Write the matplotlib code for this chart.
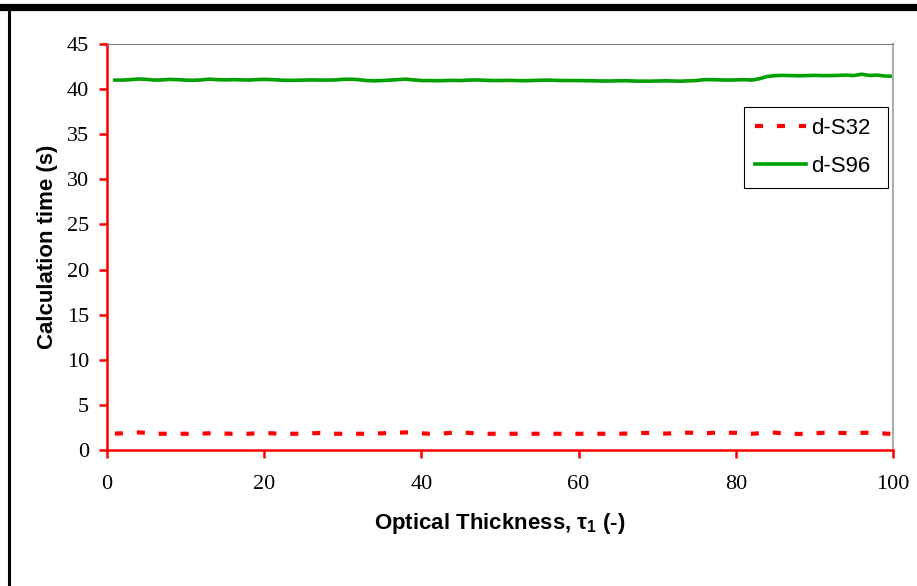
import numpy as np
import matplotlib
matplotlib.use("Agg")
import matplotlib.pyplot as plt
from matplotlib.lines import Line2D

# optical thickness values (1..100)
tau = list(range(1, 101))

# calculation time, d-S32 (s)
t_s32 = [1.82, 1.85, 1.9, 1.95, 1.9, 1.82, 1.8, 1.8, 1.8, 1.8,
         1.8, 1.82, 1.85, 1.85, 1.82, 1.8, 1.8, 1.8, 1.85, 1.88,
         1.85, 1.8, 1.8, 1.8, 1.82, 1.85, 1.88, 1.85, 1.8, 1.8,
         1.8, 1.8, 1.8, 1.82, 1.85, 1.88, 1.92, 1.95, 1.9, 1.85,
         1.8, 1.8, 1.85, 1.92, 1.95, 1.9, 1.82, 1.8, 1.8, 1.8,
         1.8, 1.8, 1.8, 1.8, 1.8, 1.8, 1.8, 1.8, 1.8, 1.8,
         1.8, 1.8, 1.8, 1.8, 1.8, 1.82, 1.85, 1.88, 1.9, 1.85,
         1.82, 1.85, 1.9, 1.92, 1.9, 1.85, 1.9, 1.93, 1.92, 1.9,
         1.85, 1.8, 1.85, 1.92, 1.92, 1.85, 1.8, 1.78, 1.8, 1.85,
         1.9, 1.92, 1.9, 1.88, 1.85, 1.9, 1.92, 1.88, 1.82, 1.78]

# calculation time, d-S96 (s)
t_s96 = [41.0, 41.0, 41.05, 41.12, 41.08, 41.0, 41.02, 41.08, 41.05, 41.0,
         40.98, 41.02, 41.1, 41.05, 41.02, 41.05, 41.03, 41.0, 41.05, 41.08,
         41.05, 41.0, 40.97, 40.98, 41.0, 41.02, 41.0, 41.0, 41.02, 41.08,
         41.1, 41.05, 40.95, 40.92, 40.95, 41.0, 41.05, 41.1, 41.02, 40.95,
         40.95, 40.93, 40.95, 40.97, 40.95, 41.0, 41.02, 40.98, 40.95, 40.95,
         40.97, 40.95, 40.93, 40.95, 40.98, 41.0, 40.97, 40.95, 40.95, 40.95,
         40.93, 40.92, 40.9, 40.9, 40.92, 40.93, 40.9, 40.88, 40.88, 40.9,
         40.92, 40.9, 40.88, 40.92, 40.95, 41.05, 41.05, 41.02, 41.0, 41.02,
         41.05, 41.0, 41.15, 41.4, 41.5, 41.52, 41.5, 41.48, 41.5, 41.52,
         41.5, 41.5, 41.52, 41.55, 41.5, 41.65, 41.52, 41.55, 41.45, 41.42]

plt.rcParams['lines.scale_dashes'] = False
serif = 'Liberation Serif'
sans = 'Liberation Sans'

fig = plt.figure(figsize=(9.17, 5.86), dpi=100)
ax = fig.add_axes([107 / 917, 1 - 450 / 586, 786 / 917, 406 / 586])

red = '#ff0000'
green = '#00a000'
ax.plot(tau, t_s32, color=red, lw=3.0, dashes=(5.8, 10.0), dash_capstyle='butt')
ax.plot(tau, t_s96, color=green, lw=2.6, solid_joinstyle='round')

ax.set_xlim(0, 100)
ax.set_ylim(0, 45)
ax.set_xticks(range(0, 101, 20))
ax.set_yticks(range(0, 46, 5))

for side in ['left', 'bottom']:
    ax.spines[side].set_color(red)
    ax.spines[side].set_linewidth(1.8)
ax.spines['top'].set_color('#808080')
ax.spines['top'].set_linewidth(0.8)
ax.spines['right'].set_color('#b0b0b0')
ax.spines['right'].set_linewidth(1.6)

ax.tick_params(axis='both', direction='out', color=red, width=1.8, labelsize=16)
ax.tick_params(axis='y', length=6, pad=7)
ax.tick_params(axis='x', length=6, pad=12)
for lab in ax.get_xticklabels() + ax.get_yticklabels():
    lab.set_fontfamily(serif)

ax.set_xlabel(r'Optical Thickness, $\mathregular{\tau_1}$ (-)', fontsize=16,
              fontweight='bold', family=sans, labelpad=12)
ax.set_ylabel('Calculation time (s)', fontsize=16, fontweight='bold',
              family=sans, labelpad=6)

handles = [Line2D([], [], color=red, lw=3.0, dashes=(5.8, 10.0)),
           Line2D([], [], color=green, lw=2.6)]
leg = ax.legend(handles, ['d-S32', 'd-S96'], loc='upper left',
                bbox_to_anchor=(0.81, 0.648, 0.184, 0.197), mode='expand',
                fancybox=False, edgecolor='black', framealpha=1,
                prop={'family': sans, 'size': 16}, handlelength=2.3,
                handletextpad=0.25, borderpad=0.5, labelspacing=0.75,
                borderaxespad=0)
leg.get_frame().set_linewidth(0.8)

# outer page border (top thick bar, left line)
fig.add_artist(Line2D([0, 1], [1 - 6.5 / 586] * 2, color='black', lw=5.2,
                      transform=fig.transFigure))
fig.add_artist(Line2D([9 / 917] * 2, [0, 1 - 8 / 586], color='black', lw=2.2,
                      transform=fig.transFigure))

fig.savefig('out.png', dpi=100)
